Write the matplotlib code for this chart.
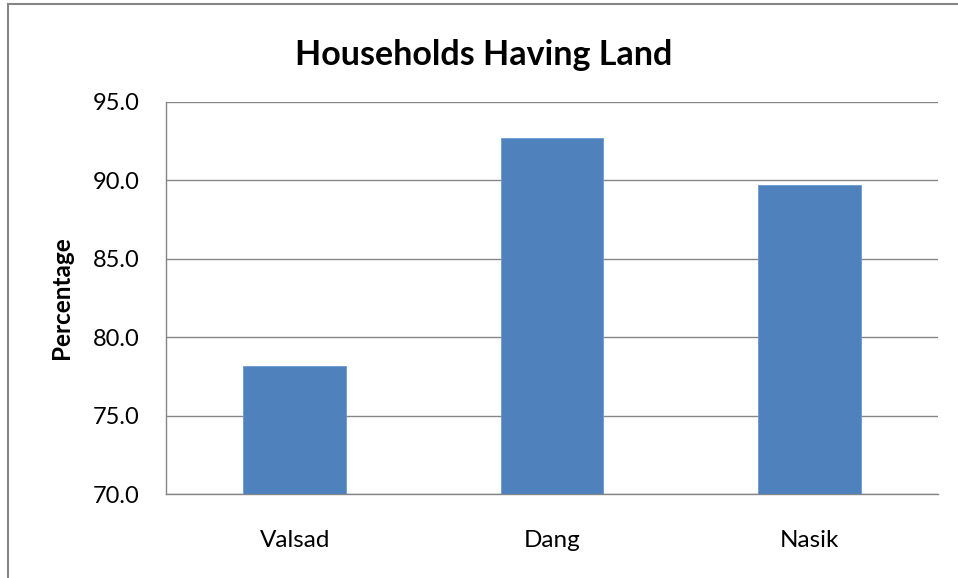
import matplotlib
matplotlib.use("Agg")
import matplotlib.pyplot as plt
from matplotlib.lines import Line2D

categories = ["Valsad", "Dang", "Nasik"]
values = [78.2, 92.7, 89.7]
yticks = [70.0, 75.0, 80.0, 85.0, 90.0, 95.0]
title = "Households Having Land"
ylabel = "Percentage"

W, H = 958, 578
fig = plt.figure(figsize=(W / 100, H / 100), dpi=100)
plt.rcParams['font.family'] = ['Lato', 'DejaVu Sans']

left, right, top, bottom = 166, 938, 101.8, 494.3
ax = fig.add_axes([left / W, 1 - bottom / H, (right - left) / W, (bottom - top) / H])

x = range(len(categories))
ax.bar(x, values, width=0.4, color="#4F81BD", edgecolor="#6A9AD2", linewidth=0.6, zorder=3)
ax.set_xlim(-0.5, len(categories) - 0.5)
ax.set_ylim(70, 95)
ax.set_yticks(yticks)
ax.set_yticklabels([f"{v:.1f}" for v in yticks], fontsize=17)
ax.set_xticks(list(x))
ax.set_xticklabels(categories, fontsize=17.5)
ax.tick_params(axis='both', length=0)
ax.tick_params(axis='y', pad=19)
ax.tick_params(axis='x', pad=26)
ax.grid(axis='y', color="#868686", linewidth=1.0, zorder=0)
ax.set_axisbelow(True)
for s in ["top", "right"]:
    ax.spines[s].set_visible(False)
for s in ["left", "bottom"]:
    ax.spines[s].set_color("#868686")
    ax.spines[s].set_linewidth(1.0)

ax.set_ylabel(ylabel, fontsize=17.5, fontweight='bold')
ax.yaxis.set_label_coords((73 - left) / (right - left), 0.5)

fig.text(484 / W, 1 - 55 / H, title, ha='center', va='center', fontsize=24.5, fontweight='bold')

# chart area border (top and left)
fig.add_artist(Line2D([7.5 / W, 7.5 / W], [0, 1 - 4 / H], transform=fig.transFigure, color="#868686", linewidth=1.5))
fig.add_artist(Line2D([7.5 / W, 1], [1 - 4 / H, 1 - 4 / H], transform=fig.transFigure, color="#868686", linewidth=1.5))

fig.savefig("out.png", dpi=100, facecolor="white")
